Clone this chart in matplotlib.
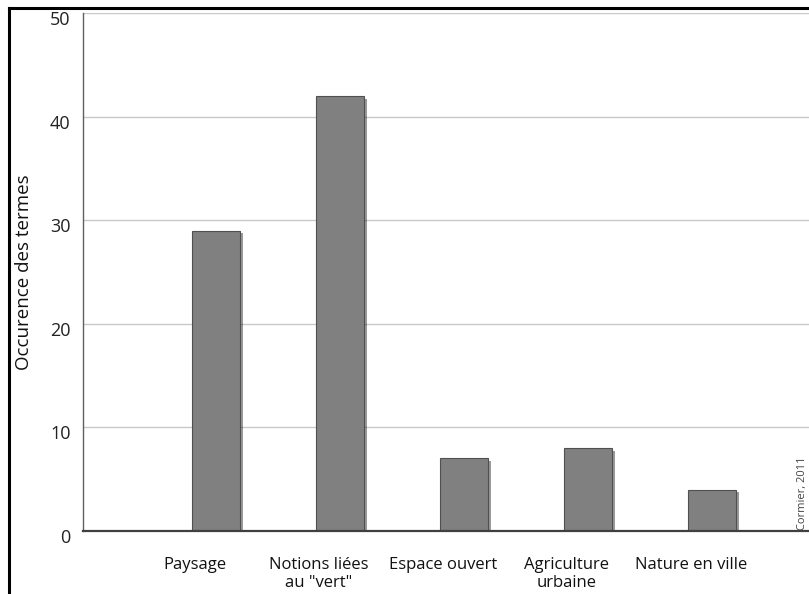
import numpy as np
import matplotlib
matplotlib.use("Agg")
import matplotlib.pyplot as plt
from matplotlib.lines import Line2D
from matplotlib.transforms import ScaledTranslation
import matplotlib.patheffects as pe

categories = ["Paysage", "Notions liées\nau \"vert\"", "Espace ouvert",
              "Agriculture\nurbaine", "Nature en ville"]
occurrences = [29, 42, 7, 8, 4]
y_ticks = [0, 10, 20, 30, 40, 50]

plt.rcParams["font.family"] = ["Open Sans", "DejaVu Sans"]

W, H = 809, 594
fig = plt.figure(figsize=(W / 100, H / 100), dpi=100)
fig.patch.set_facecolor("white")

ax = fig.add_axes([83 / W, 1 - 531 / H, 747 / W, 518 / H])

x = np.arange(len(categories))
bars = ax.bar(x, occurrences, width=0.38, color="#808080",
              edgecolor="#505050", linewidth=0.8, zorder=3)
for b in bars:
    b.set_path_effects([pe.SimplePatchShadow(offset=(2.5, -2), alpha=0.4,
                                             shadow_rgbFace="#000000"),
                        pe.Normal()])

ax.set_xlim(-1.073, -1.073 + 747 / 124)
ax.set_ylim(0, 50)
ax.set_yticks(y_ticks)
ax.set_yticklabels([str(v) for v in y_ticks], fontsize=13, color="#222222")
ax.tick_params(axis="y", length=0, pad=9)
down = ScaledTranslation(0, -5 / 100, fig.dpi_scale_trans)
for lab in ax.get_yticklabels():
    lab.set_transform(lab.get_transform() + down)

ax.set_xticks(x - 0.17)
ax.set_xticklabels(categories, fontsize=12, color="#111111", linespacing=1.1)
ax.tick_params(axis="x", length=0, pad=19)
ax.yaxis.grid(True, color="#c8c8c8", linewidth=1.0, zorder=0)
ax.set_axisbelow(True)

for s in ["top", "right"]:
    ax.spines[s].set_visible(False)
ax.spines["left"].set_color("#606060")
ax.spines["left"].set_linewidth(1.0)
ax.spines["bottom"].set_color("#404040")
ax.spines["bottom"].set_linewidth(1.6)
ax.spines["bottom"].set_zorder(4)

ax.set_ylabel("Occurence des termes", fontsize=13.5, color="#111111",
              labelpad=12)

fig.text(797 / W, 1 - 530 / H, "Cormier, 2011", rotation=90, fontsize=8,
         color="#444444", ha="left", va="bottom")

# black frame at top and left
fig.add_artist(Line2D([9 / W, 9 / W], [0, 1 - 8 / H], color="black",
                      linewidth=2.2, transform=fig.transFigure))
fig.add_artist(Line2D([9 / W, 1], [1 - 8 / H, 1 - 8 / H], color="black",
                      linewidth=2.2, transform=fig.transFigure))

fig.savefig("out.png", dpi=100)
